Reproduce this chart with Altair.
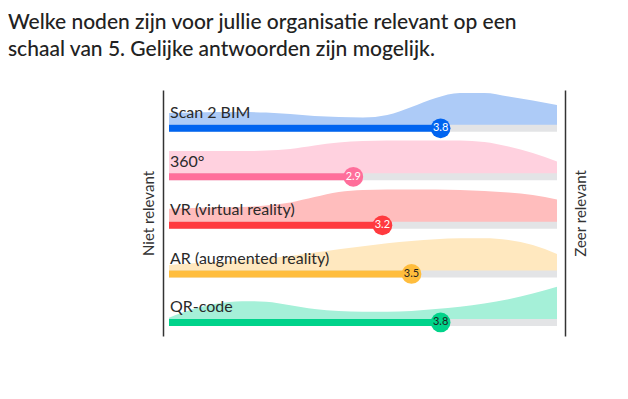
import altair as alt
import pandas as pd

# ---------------- data ----------------
categories = ["Scan 2 BIM", "360°", "VR (virtual reality)", "AR (augmented reality)", "QR-code"]
scores = [3.8, 2.9, 3.2, 3.5, 3.8]
score_labels = ["3.8", "2.9", "3.2", "3.5", "3.8"]

scale_points = [1, 1.25, 1.5, 1.75, 2, 2.25, 2.5, 2.75, 3, 3.25, 3.5, 3.75, 4, 4.25, 4.5, 4.75, 5]
density_scan = [12, 12.5, 13, 13, 12.5, 11, 9, 8, 7.5, 10, 18, 27, 32, 32, 28.5, 24.5, 20]
density_360 = [22.5, 22.5, 22.5, 22.5, 23, 24.5, 28, 31, 32.5, 33, 33, 33, 33, 31.5, 27, 20.5, 12]
density_vr = [13.4, 14, 14.5, 15, 16.5, 19.5, 25, 30, 32, 32.7, 32.7, 32.5, 32, 31, 29.5, 27, 22.7]
density_ar = [5.7, 7.4, 8.7, 10.4, 12.4, 14.7, 18, 21.4, 24.4, 27.4, 29.7, 31.4, 32.4, 32.4, 30.7, 25.7, 16.7]
density_qr = [1.4, 10, 15.7, 18, 17.4, 14, 10, 8, 7.4, 7.4, 8, 10, 12.4, 15.7, 20, 25.7, 32.4]
densities = [density_scan, density_360, density_vr, density_ar, density_qr]

scale_min = 1
scale_max = 5

# ---------------- styling ----------------
bar_colors = ["#0064F0", "#FF6E9B", "#FF3A3F", "#FFBD3D", "#00D38A"]
area_colors = ["#ADCBF7", "#FFD1DF", "#FFBDBD", "#FFE8BF", "#A5F0D8"]
value_text_colors = ["#FFFFFF", "#FFFFFF", "#FFFFFF", "#1F1F1F", "#1F1F1F"]
FONT = "Lato"
ROW_PX = 48.55          # pixel height of one row unit
CENTER = 0.79           # bar centre within a row (row units)
BAR_HALF = 3.3 / ROW_PX

rows = pd.DataFrame({
    "category": categories,
    "row": list(range(len(categories))),
    "score": scores,
    "label": score_labels,
    "lo": [scale_min] * len(categories),
    "hi": [scale_max] * len(categories),
})

dens_records = []
for i, (cat, dvals) in enumerate(zip(categories, densities)):
    for xv, dv in zip(scale_points, dvals):
        dens_records.append({"category": cat, "row": i, "x": xv, "density": dv})
dens = pd.DataFrame(dens_records)

xs = alt.Scale(domain=[scale_min, scale_max], nice=False, zero=False)
ys = alt.Scale(domain=[0, 5.07], reverse=True, nice=False, zero=False)

left_axis = alt.Axis(title="Niet relevant", labels=False, ticks=False, grid=False,
                     domain=True, domainColor="#333333", domainWidth=1.5, offset=6,
                     titleFont=FONT, titleFontSize=15, titleFontWeight="normal",
                     titleColor="#333333", titlePadding=7)
right_axis = alt.Axis(title="Zeer relevant", orient="right", labels=False, ticks=False,
                      grid=False, domain=True, domainColor="#333333", domainWidth=1.5,
                      offset=8, titleAngle=270, titleBaseline="top", titleFont=FONT,
                      titleFontSize=15, titleFontWeight="normal", titleColor="#333333",
                      titlePadding=8)

area = alt.Chart(dens).transform_calculate(
    top=f"datum.row + {CENTER} - {BAR_HALF} - datum.density / {ROW_PX}",
    base=f"datum.row + {CENTER}",
).mark_area(interpolate="monotone", opacity=1).encode(
    x=alt.X("x:Q", scale=xs, axis=None),
    y=alt.Y("top:Q", scale=ys, axis=left_axis),
    y2="base:Q",
    color=alt.Color("category:N", scale=alt.Scale(domain=categories, range=area_colors), legend=None),
)

rbase = alt.Chart(rows).transform_calculate(center=f"datum.row + {CENTER}")

track = rbase.mark_rule(strokeWidth=7, color="#E3E4E6", strokeCap="butt").encode(
    x=alt.X("lo:Q", scale=xs, axis=None),
    x2="hi:Q",
    y=alt.Y("center:Q", scale=ys, axis=None),
)

bar = rbase.mark_rule(strokeWidth=7, strokeCap="butt").encode(
    x=alt.X("lo:Q", scale=xs, axis=None),
    x2="score:Q",
    y=alt.Y("center:Q", scale=ys, axis=None),
    color=alt.Color("category:N", scale=alt.Scale(domain=categories, range=bar_colors), legend=None),
)

dots = rbase.mark_circle(size=390, opacity=1).encode(
    x=alt.X("score:Q", scale=xs, axis=None),
    y=alt.Y("center:Q", scale=ys, axis=None),
    color=alt.Color("category:N", scale=alt.Scale(domain=categories, range=bar_colors), legend=None),
)

dot_text = rbase.mark_text(font=FONT, fontSize=11, align="center", baseline="middle").encode(
    x=alt.X("score:Q", scale=xs, axis=None),
    y=alt.Y("center:Q", scale=ys, axis=None),
    text="label:N",
    color=alt.Color("category:N", scale=alt.Scale(domain=categories, range=value_text_colors), legend=None),
)

labels = rbase.mark_text(font=FONT, fontSize=16, align="left", baseline="alphabetic",
                         dx=1, dy=-10, color="#2A2A2A").encode(
    x=alt.X("lo:Q", scale=xs, axis=None),
    y=alt.Y("center:Q", scale=ys, axis=right_axis),
    text="category:N",
)

chart = alt.layer(area, track, bar, dots, dot_text, labels).resolve_scale(
    color="independent"
).resolve_axis(
    y="independent"
).properties(
    width=388,
    height=246,
    background="white",
    autosize=alt.AutoSizeParams(type="none"),
    padding={"left": 161, "top": 82, "right": 60, "bottom": 40},
    title=alt.TitleParams(
        text=["Welke noden zijn voor jullie organisatie relevant op een",
              "schaal van 5. Gelijke antwoorden zijn mogelijk."],
        anchor="start", frame="group", dx=-161, offset=30,
        font=FONT, fontSize=21, fontWeight=500, color="#222222", lineHeight=26.7,
    ),
).configure_view(stroke=None, strokeWidth=0)

chart.save("out.html", embed_options={"renderer": "svg", "actions": False})
